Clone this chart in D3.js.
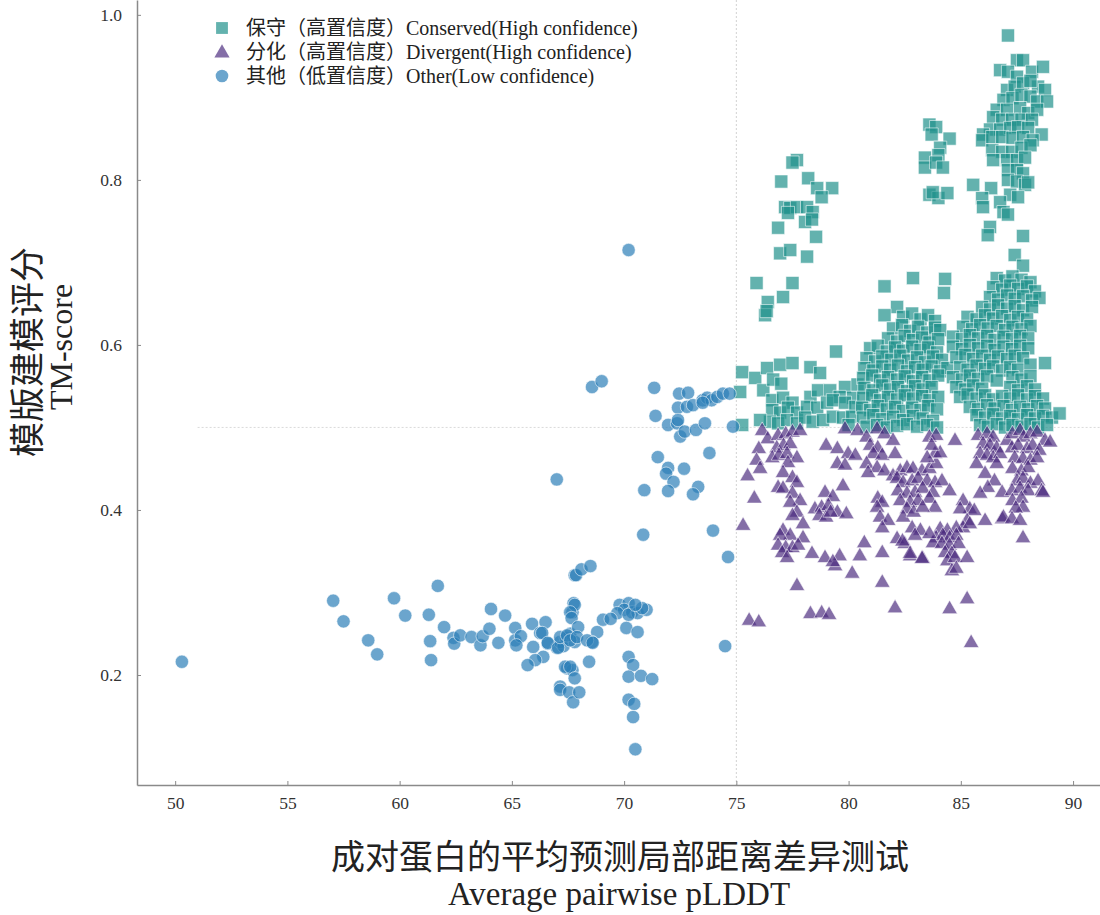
<!DOCTYPE html>
<html><head><meta charset="utf-8">
<script src="https://cdn.jsdelivr.net/npm/d3@7"></script>
<style>body{margin:0;background:#fff}svg{display:block}text{font-family:"Liberation Serif","Noto Sans CJK SC",serif}</style>
</head><body>
<svg id="c" width="1100" height="915"></svg>
<script>
const xTicks=[50,55,60,65,70,75,80,85,90];
const yTicks=[0.2,0.4,0.6,0.8,1.0];
const legendLabels=["保守（高置信度）Conserved(High confidence)","分化（高置信度）Divergent(High confidence)","其他（低置信度）Other(Low confidence)"];
const xTitle=["成对蛋白的平均预测局部距离差异测试","Average pairwise pLDDT"];
const yTitle=["模版建模评分","TM-score"];

const conserved=[
// upper left cluster
[77.7,0.824],[77.5,0.821],[77.0,0.798],[78.2,0.802],[78.6,0.790],[79.27,0.790],[78.8,0.779],[77.17,0.767],[77.4,0.766],[77.7,0.767],[78.15,0.767],[78.4,0.761],[77.3,0.760],[78.06,0.749],[78.37,0.752],[76.86,0.742],[78.55,0.731],[76.95,0.711],[77.4,0.715],[78.15,0.707],
[75.9,0.675],[77.5,0.675],[76.4,0.652],[77.08,0.658],[76.28,0.636],[76.35,0.641],[79.44,0.592],
[81.6,0.671],[82.87,0.681],[84.3,0.680],[84.25,0.663],[82.16,0.646],[81.6,0.636],
// cluster 83-84.5 high
[83.6,0.867],[83.9,0.864],[83.7,0.855],[84.5,0.850],[84.08,0.839],[84.0,0.830],[83.4,0.827],[83.4,0.815],[83.9,0.821],[84.2,0.815],[83.6,0.782],[84.0,0.778],[84.4,0.784],[83.75,0.785],
// right tall cluster
[87.1,0.975],[87.5,0.945],[87.77,0.945],[86.75,0.933],[87.1,0.931],[88.17,0.931],[88.66,0.937],[87.5,0.925],
[87.06,0.909],[87.4,0.913],[87.77,0.917],[88.44,0.913],[88.75,0.909],[88.1,0.920],
[86.9,0.897],[87.3,0.899],[87.7,0.903],[88.1,0.901],[88.4,0.895],[88.84,0.895],
[86.6,0.885],[87.06,0.885],[87.64,0.887],[88.0,0.881],[88.4,0.885],
[86.44,0.876],[86.84,0.873],[87.28,0.873],[87.7,0.873],[88.17,0.873],
[86.3,0.861],[86.75,0.861],[87.2,0.863],[87.55,0.864],[88.0,0.863],[88.6,0.855],[85.99,0.855],[85.95,0.848],
[86.4,0.852],[86.84,0.852],[87.3,0.851],[87.77,0.852],[88.2,0.848],
[86.4,0.836],[86.84,0.834],[87.28,0.834],[87.7,0.839],[88.1,0.842],
[86.44,0.824],[87.06,0.824],[87.5,0.824],[87.86,0.827],
[87.1,0.812],[87.5,0.812],[87.77,0.808],[87.1,0.800],[87.5,0.798],[87.86,0.794],
[85.55,0.794],[86.35,0.790],[87.2,0.782],[87.55,0.779],[88.0,0.797],
[85.95,0.778],[85.99,0.767],[86.75,0.773],[86.9,0.761],[87.1,0.758],[86.3,0.743],[86.2,0.733],[87.77,0.732],[87.4,0.709],[87.77,0.696],
// left lower area 75-80.5
[75.26,0.567],[75.84,0.560],[76.37,0.572],[76.95,0.576],[77.5,0.578],[78.3,0.573],[78.73,0.566],
[75.17,0.543],[76.2,0.545],[76.64,0.558],[77.0,0.553],
[76.6,0.533],[77.08,0.536],[77.5,0.530],[78.3,0.537],[78.64,0.545],[79.18,0.545],[79.84,0.549],[79.6,0.537],[80.2,0.536],
[76.6,0.521],[76.95,0.518],[77.3,0.524],[77.7,0.518],[78.15,0.525],[78.6,0.524],[79.04,0.530],[79.3,0.533],[79.84,0.530],[80.3,0.525],
[76.5,0.507],[76.86,0.505],[77.26,0.509],[77.7,0.505],[78.06,0.512],[78.4,0.507],[78.86,0.509],[79.3,0.513],[79.75,0.512],[80.16,0.513],
[75.26,0.503],[76.06,0.509],[80.4,0.552],[80.0,0.503],
// middle dense cluster 80.5-84.5
[82.43,0.634],[82.83,0.638],[83.2,0.631],[83.54,0.636],[83.85,0.629],
[81.98,0.620],[82.38,0.624],[82.74,0.617],[83.1,0.622],[83.5,0.615],[83.85,0.621],[84.08,0.618],
[81.76,0.608],[82.16,0.604],[82.5,0.611],[82.87,0.606],[83.27,0.609],[83.6,0.603],[83.99,0.607],
[80.96,0.596],[81.3,0.599],[81.7,0.592],[82.07,0.597],[82.43,0.593],[82.83,0.598],[83.2,0.594],[83.54,0.597],[83.94,0.591],
[80.8,0.584],[81.18,0.580],[81.5,0.586],[81.9,0.582],[82.3,0.587],[82.65,0.581],[83.05,0.585],[83.4,0.579],[83.76,0.586],[84.16,0.582],
[80.7,0.572],[81.1,0.569],[81.5,0.574],[81.85,0.570],[82.2,0.575],[82.6,0.568],[82.96,0.573],[83.3,0.570],[83.7,0.574],[84.08,0.568],[84.4,0.572],
[80.65,0.560],[81.05,0.563],[81.4,0.557],[81.76,0.561],[82.16,0.558],[82.5,0.562],[82.87,0.556],[83.27,0.561],[83.6,0.557],[83.99,0.563],
[80.7,0.548],[81.1,0.545],[81.5,0.551],[81.85,0.546],[82.2,0.549],[82.6,0.544],[82.96,0.550],[83.3,0.546],[83.7,0.549],
[80.65,0.536],[81.05,0.539],[81.4,0.533],[81.76,0.537],[82.16,0.534],[82.5,0.539],[82.87,0.535],[83.27,0.538],[83.6,0.533],[83.99,0.537],
[80.6,0.524],[80.96,0.521],[81.3,0.526],[81.7,0.522],[82.07,0.525],[82.43,0.520],[82.83,0.524],[83.2,0.521],[83.54,0.526],[83.94,0.522],
[80.65,0.512],[81.1,0.515],[81.5,0.510],[81.98,0.513],[82.43,0.509],[82.87,0.514],[83.3,0.511],[83.76,0.508],
[80.8,0.501],[81.27,0.503],[81.7,0.500],[82.16,0.502],[82.6,0.504],[83.05,0.501],[83.5,0.503],[83.94,0.500],
// right lower cluster 84.5-89.5
[86.6,0.681],[86.97,0.678],[87.3,0.683],[87.7,0.679],[88.1,0.676],
[86.44,0.670],[86.84,0.667],[87.2,0.672],[87.55,0.668],[87.95,0.671],[88.3,0.665],
[86.3,0.658],[86.66,0.655],[87.06,0.660],[87.4,0.656],[87.77,0.659],[88.17,0.654],[88.5,0.657],
[85.95,0.646],[86.3,0.643],[86.66,0.648],[87.06,0.644],[87.4,0.647],[87.77,0.642],[88.17,0.646],
[85.3,0.634],[85.7,0.631],[86.08,0.636],[86.44,0.632],[86.84,0.635],[87.2,0.630],[87.55,0.634],[87.95,0.631],
[85.1,0.622],[85.5,0.619],[85.86,0.624],[86.2,0.620],[86.6,0.623],[86.97,0.618],[87.3,0.622],[87.7,0.619],[88.1,0.623],
[84.65,0.610],[85.05,0.607],[85.4,0.612],[85.77,0.608],[86.17,0.611],[86.5,0.606],[86.9,0.610],[87.28,0.607],[87.64,0.611],[88.0,0.608],
[84.65,0.598],[85.05,0.595],[85.4,0.600],[85.77,0.596],[86.17,0.599],[86.5,0.594],[86.9,0.598],[87.28,0.595],[87.64,0.599],[88.0,0.596],
[84.8,0.585],[85.2,0.588],[85.55,0.583],[85.95,0.587],[86.3,0.582],[86.66,0.586],[87.06,0.583],[87.4,0.587],[87.77,0.584],
[84.97,0.573],[85.3,0.570],[85.7,0.575],[86.08,0.571],[86.44,0.574],[86.84,0.569],[87.2,0.573],[87.55,0.570],[88.1,0.576],[88.75,0.578],
[84.65,0.561],[85.05,0.558],[85.4,0.563],[85.77,0.559],[86.17,0.562],[86.6,0.557],[87.3,0.561],[87.7,0.558],[88.1,0.562],
[84.8,0.549],[85.2,0.546],[85.55,0.551],[85.95,0.547],[87.2,0.549],[87.55,0.545],[87.95,0.550],[88.3,0.546],
[84.97,0.537],[85.3,0.540],[85.7,0.535],[86.08,0.539],[86.44,0.534],[86.84,0.538],[87.2,0.535],[87.55,0.539],[87.95,0.534],[88.3,0.538],[88.66,0.535],
[85.4,0.525],[85.77,0.522],[86.17,0.527],[86.5,0.523],[86.9,0.526],[87.28,0.521],[87.64,0.525],[88.0,0.522],[88.4,0.526],[88.75,0.523],
[85.7,0.515],[86.08,0.512],[86.44,0.516],[86.84,0.511],[87.2,0.514],[87.55,0.510],[87.95,0.515],[88.3,0.511],[88.66,0.514],[89.06,0.512],[89.4,0.517],
[85.86,0.503],[86.2,0.501],[86.6,0.504],[86.97,0.500],[87.3,0.503],[87.7,0.501],[88.1,0.504],[88.44,0.500],[88.84,0.503]
];

const divergent=[
[76.15,0.497],[76.4,0.487],[76.0,0.475],[75.9,0.461],[76.06,0.451],[75.5,0.442],[75.8,0.415],[75.3,0.382],[75.57,0.267],[76.0,0.265],
[76.86,0.491],[77.2,0.493],[77.5,0.495],[77.84,0.497],[76.8,0.476],[77.1,0.479],[77.4,0.481],
[76.6,0.464],[76.9,0.467],[77.26,0.469],[77.7,0.464],[77.3,0.458],[77.08,0.446],[77.5,0.440],[77.7,0.434],
[76.86,0.428],[77.08,0.427],[77.5,0.421],[77.84,0.412],[77.4,0.410],[77.7,0.398],[77.5,0.394],[77.97,0.384],
[77.08,0.376],[77.4,0.370],[76.95,0.370],[77.97,0.367],[76.86,0.358],[77.2,0.355],[77.5,0.355],[77.75,0.358],[77.04,0.349],[77.26,0.343],
[78.37,0.348],[77.7,0.309],[78.3,0.275],[78.8,0.276],[79.13,0.274],
[78.95,0.422],[79.3,0.417],[79.75,0.430],[78.5,0.402],[78.8,0.404],[79.1,0.406],[78.7,0.394],[79.0,0.392],[79.5,0.398],[79.9,0.396],[79.2,0.398],
[79.0,0.479],[79.5,0.475],[79.84,0.499],[79.98,0.469],[80.3,0.467],[79.5,0.457],[79.84,0.455],
[78.95,0.343],[79.4,0.333],[79.6,0.345],[79.3,0.338],[80.16,0.324],[81.5,0.313],[82.07,0.282],[80.7,0.361],[80.5,0.345],[81.5,0.349],
[80.4,0.497],[80.8,0.489],[81.27,0.499],[81.6,0.493],[81.98,0.485],[80.96,0.479],[81.3,0.476],[81.1,0.469],[81.5,0.467],[82.07,0.469],
[80.8,0.457],[81.27,0.452],[80.87,0.446],[81.6,0.448],[81.98,0.442],
[81.3,0.415],[81.5,0.410],[81.27,0.404],[81.4,0.392],[81.76,0.388],[81.5,0.379],
[82.16,0.366],[82.5,0.360],[82.74,0.345],[83.3,0.342],[82.4,0.363],
[82.3,0.448],[82.6,0.452],[82.87,0.451],[83.27,0.448],[83.6,0.451],[83.9,0.457],
[82.16,0.439],[82.43,0.434],[82.83,0.436],[83.1,0.439],[83.5,0.436],[83.85,0.434],[84.16,0.436],
[82.2,0.424],[82.6,0.421],[82.96,0.422],[83.3,0.427],[83.76,0.422],[84.5,0.424],
[82.3,0.412],[82.74,0.410],[83.1,0.412],[83.6,0.415],[83.85,0.404],[82.6,0.402],[82.43,0.392],[82.9,0.398],[83.3,0.404],
[83.6,0.489],[83.9,0.491],[83.85,0.469],[84.08,0.470],[83.7,0.479],[84.74,0.485],[83.5,0.464],
[85.1,0.412],[85.4,0.402],[84.97,0.402],[85.6,0.400],[85.28,0.388],[85.1,0.379],[85.4,0.384],
[84.8,0.379],[84.08,0.378],[84.4,0.376],[83.9,0.367],[84.2,0.370],[84.5,0.367],[84.8,0.370],[83.76,0.361],[84.16,0.360],[84.5,0.358],[84.9,0.360],
[84.3,0.349],[84.6,0.348],[84.4,0.339],[84.74,0.343],[85.28,0.343],[84.6,0.327],[84.8,0.330],
[82.83,0.379],[83.2,0.376],[82.96,0.370],[83.6,0.372],[82.74,0.348],[83.27,0.342],
[84.5,0.281],[85.28,0.293],[85.46,0.240],
[85.77,0.491],[86.17,0.493],[86.44,0.489],[85.99,0.481],[86.3,0.479],[86.6,0.476],
[85.86,0.469],[86.17,0.467],[86.44,0.464],[86.75,0.469],[85.7,0.457],[86.08,0.445],[86.5,0.436],[86.2,0.428],[86.84,0.422],[85.86,0.421],[86.08,0.388],[86.84,0.390],[86.6,0.457],
[87.06,0.485],[87.3,0.493],[87.64,0.497],[87.8,0.489],[88.1,0.493],[88.4,0.495],[88.75,0.485],
[87.28,0.476],[87.55,0.479],[87.95,0.475],[88.2,0.479],[88.5,0.473],
[87.4,0.464],[87.77,0.463],[88.1,0.461],[88.4,0.464],[87.3,0.451],[87.7,0.448],[88.0,0.452],
[87.5,0.436],[87.77,0.439],[88.1,0.433],[88.44,0.436],[87.28,0.424],[87.64,0.427],[88.0,0.424],[88.6,0.424],
[87.3,0.412],[87.7,0.415],[87.77,0.404],[87.45,0.403],[86.9,0.392],[87.28,0.390],[87.64,0.388],[87.77,0.367],
[88.98,0.483],[88.66,0.422]
];

const other=[
[50.3,0.216],[57.04,0.290],[57.5,0.265],[58.6,0.242],[59.0,0.225],[59.75,0.293],[60.25,0.272],[61.7,0.308],[61.3,0.273],[61.36,0.241],[61.4,0.218],[61.98,0.258],[62.4,0.245],[62.43,0.238],[62.7,0.248],[63.2,0.246],[63.6,0.236],[63.7,0.247],[64.0,0.256],[64.07,0.280],[64.7,0.272],[64.4,0.239],[65.15,0.257],[65.15,0.242],[65.4,0.247],[65.2,0.236],[65.9,0.262],[66.5,0.264],[66.26,0.251],[65.95,0.234],[66.4,0.222],[66.04,0.218],[65.7,0.212],[66.6,0.238],[67.0,0.233],[67.15,0.240],[67.4,0.245],[67.6,0.250],[67.3,0.235],[67.8,0.240],[67.7,0.276],[67.75,0.287],[67.8,0.321],[67.46,0.208],[67.7,0.206],[67.15,0.186],
[68.57,0.549],[69.0,0.556],[71.34,0.548],[71.4,0.514],[72.45,0.541],[72.85,0.542],[72.4,0.524],[72.8,0.525],[73.07,0.527],[73.5,0.533],[73.7,0.536],[73.9,0.533],[74.15,0.537],[74.4,0.541],[74.7,0.541],[73.5,0.530],[71.96,0.503],[72.36,0.505],[72.4,0.509],[72.5,0.489],[72.7,0.495],[73.2,0.497],[73.6,0.505],[74.85,0.501],[71.5,0.464],[71.96,0.451],[71.87,0.444],[72.2,0.434],[71.96,0.423],[72.67,0.450],[73.3,0.428],[73.07,0.419],[73.8,0.469],[70.9,0.424],[67.0,0.437],[70.85,0.370],[73.96,0.375],[74.63,0.343],[67.86,0.321],[68.1,0.328],[68.5,0.332],
[69.8,0.285],[70.2,0.287],[70.0,0.279],[70.36,0.276],[70.6,0.275],[71.0,0.279],[70.8,0.281],[69.7,0.275],[70.2,0.273],[70.5,0.285],[69.06,0.267],[69.4,0.268],[68.8,0.252],[68.57,0.240],[70.1,0.257],[70.6,0.252],[70.2,0.222],[70.4,0.212],[70.2,0.198],[70.75,0.199],[71.25,0.195],[70.2,0.170],[70.45,0.165],[70.4,0.149],[70.5,0.110],
[67.8,0.285],[67.6,0.276],[67.66,0.269],[67.95,0.258],[66.35,0.251],[66.6,0.239],[67.06,0.233],[67.15,0.246],[67.46,0.248],[67.6,0.242],[67.9,0.246],[68.35,0.242],[68.6,0.239],[68.44,0.216],[67.37,0.210],[67.6,0.210],[67.8,0.196],[67.15,0.182],[67.55,0.179],[67.73,0.167],[68.0,0.179],[74.5,0.235],[70.2,0.715]
];

const svg=d3.select("#c");
const x=d3.scaleLinear().domain([48.3,91.2]).range([137,1100]);
const y=d3.scaleLinear().domain([0.0667,1.018]).range([785,0]);

// reference lines
svg.append("line").attr("x1",x(75)).attr("x2",x(75)).attr("y1",0).attr("y2",785)
  .attr("stroke","#c8c8c8").attr("stroke-width",0.8).attr("stroke-dasharray","2,2");
svg.append("line").attr("x1",x(51)).attr("x2",1100).attr("y1",y(0.5)).attr("y2",y(0.5))
  .attr("stroke","#d0d0d0").attr("stroke-width",0.8).attr("stroke-dasharray","2,2");

// axes
const xAxis=svg.append("g").attr("transform","translate(0,785)")
  .call(d3.axisBottom(x).tickValues(xTicks).tickSizeInner(-4).tickSizeOuter(0).tickPadding(12));
const yAxis=svg.append("g").attr("transform","translate(137,0)")
  .call(d3.axisLeft(y).tickValues(yTicks).tickFormat(d3.format(".1f")).tickSizeInner(-4).tickSizeOuter(0).tickPadding(15));
[xAxis,yAxis].forEach(g=>{
  g.select(".domain").attr("stroke","#8a8a8a").attr("stroke-width",1.5);
  g.selectAll(".tick line").attr("stroke","#8a8a8a").attr("stroke-width",1);
  g.selectAll(".tick text").attr("font-size",17.5).attr("fill","#333").attr("font-family","Liberation Serif");
});

const sq=d3.symbol().type(d3.symbolSquare).size(172);
const tri=d3.symbol().type(d3.symbolTriangle).size(105);
const cir=d3.symbol().type(d3.symbolCircle).size(140);
const cfg=[
  {data:conserved,sym:sq,color:"#21918c",op:0.7,dy:0},
  {data:divergent,sym:tri,color:"#4a2a7e",op:0.68,dy:1},
  {data:other,sym:cir,color:"#2c7fb8",op:0.7,dy:0}
];
cfg.forEach(c=>{
  svg.append("g").selectAll("path").data(c.data).join("path")
    .attr("d",c.sym)
    .attr("transform",d=>`translate(${x(d[0])},${y(d[1])+c.dy})`)
    .attr("fill",c.color).attr("fill-opacity",c.op)
    .attr("stroke","#fff").attr("stroke-opacity",0.7).attr("stroke-width",0.8);
});

// legend
const leg=svg.append("g");
const legSyms=[d3.symbol().type(d3.symbolSquare).size(140),d3.symbol().type(d3.symbolTriangle).size(100),d3.symbol().type(d3.symbolCircle).size(125)];
legendLabels.forEach((t,i)=>{
  const yy=28+i*24;
  leg.append("path").attr("d",legSyms[i])
    .attr("transform",`translate(222,${yy+(i===1?1:0)})`)
    .attr("fill",cfg[i].color).attr("fill-opacity",cfg[i].op);
  leg.append("text").attr("x",246).attr("y",yy+7).attr("font-size",20).attr("fill","#222").text(t);
});

// titles
svg.append("text").attr("x",620).attr("y",869).attr("text-anchor","middle").attr("font-size",34).attr("fill","#222").text(xTitle[0]);
svg.append("text").attr("x",619).attr("y",905).attr("text-anchor","middle").attr("font-size",33).attr("fill","#222").text(xTitle[1]);
svg.append("text").attr("transform","translate(40,352) rotate(-90)").attr("text-anchor","middle").attr("font-size",35).attr("fill","#222").text(yTitle[0]);
svg.append("text").attr("transform","translate(72,347) rotate(-90)").attr("text-anchor","middle").attr("font-size",32).attr("fill","#222").text(yTitle[1]);
</script>
</body></html>
